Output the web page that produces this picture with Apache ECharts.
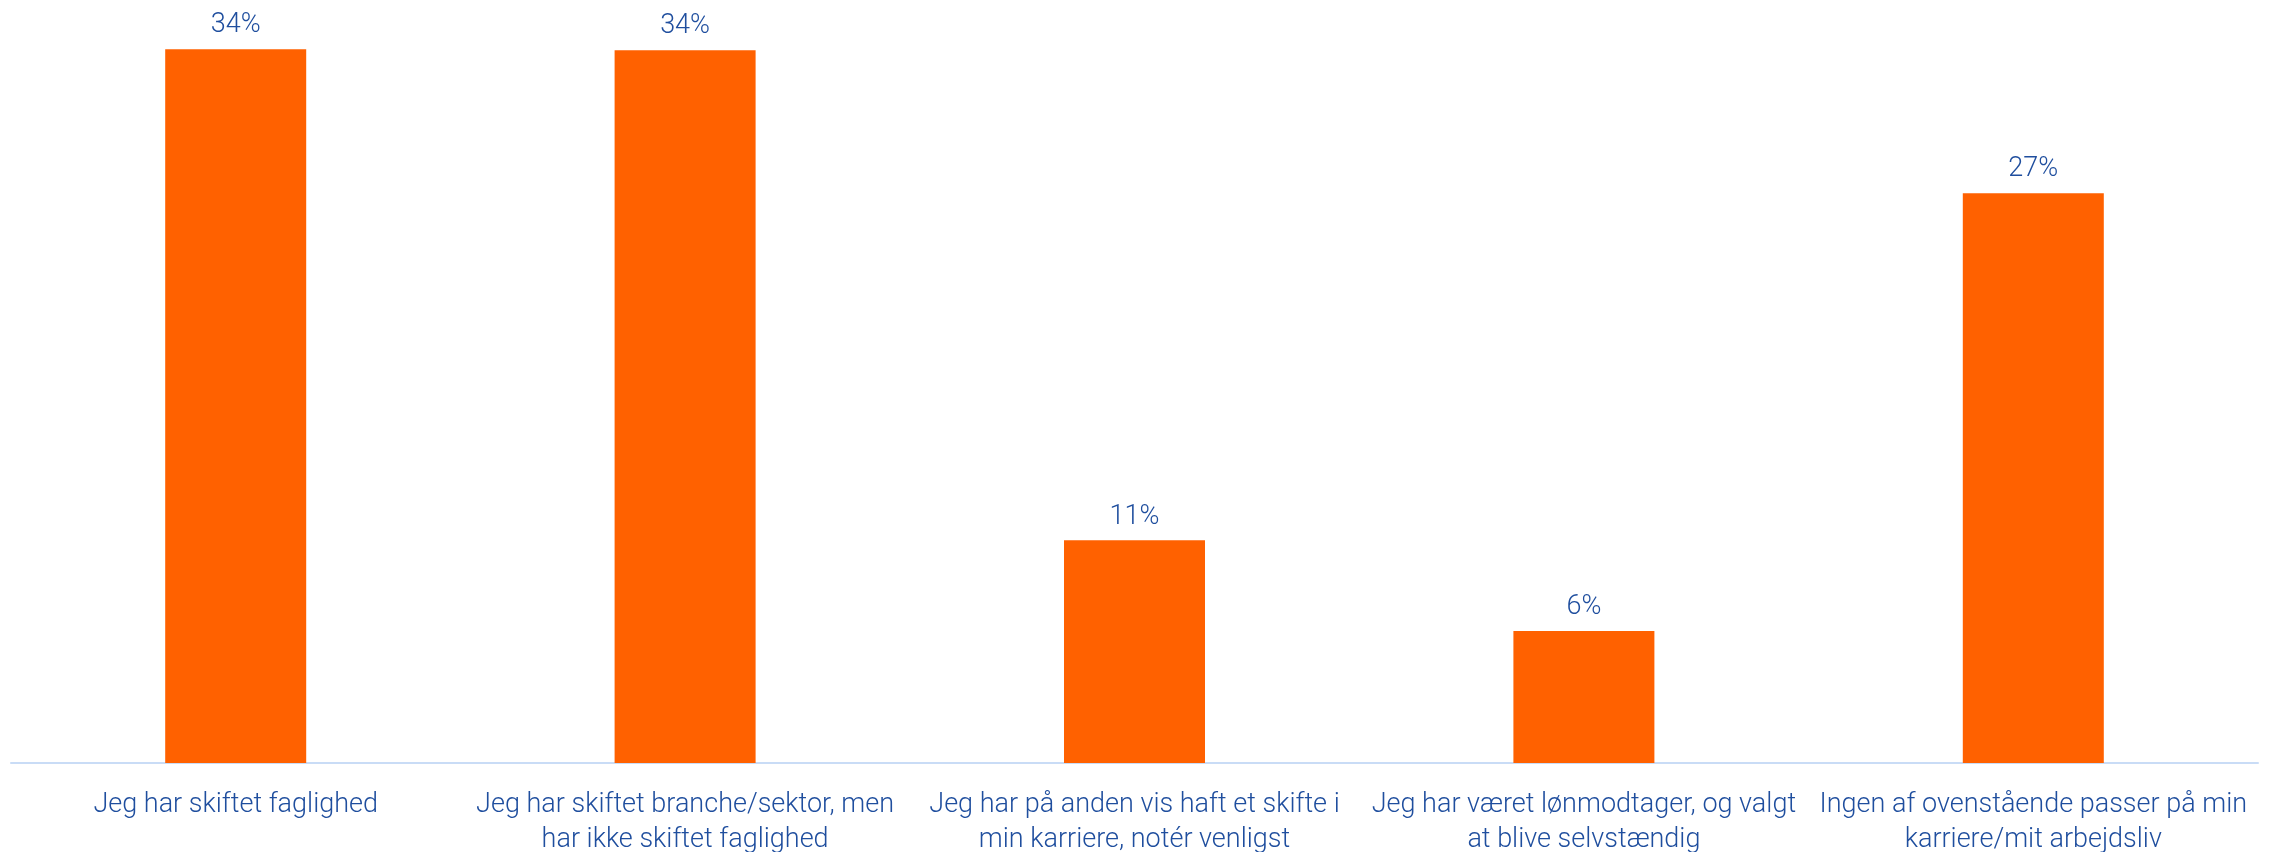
<!DOCTYPE html>
<html>
<head>
<meta charset="utf-8">
<script src="https://cdn.jsdelivr.net/npm/echarts@6/dist/echarts.min.js"></script>
<style>
  html, body { margin: 0; padding: 0; background: #fff; }
  #chart { width: 2277px; height: 852px; }
</style>
</head>
<body>
<div id="chart"></div>
<script>
const categories = [
  'Jeg har skiftet faglighed',
  'Jeg har skiftet branche/sektor, men\nhar ikke skiftet faglighed',
  'Jeg har på anden vis haft et skifte i\nmin karriere, notér venligst',
  'Jeg har været lønmodtager, og valgt\nat blive selvstændig',
  'Ingen af ovenstående passer på min\nkarriere/mit arbejdsliv'
]
const shares = [34.4, 34.35, 10.73, 6.36, 27.46]

const textBlue = '#1f4e9e'
const chart = echarts.init(document.getElementById('chart'))
chart.setOption({
  backgroundColor: '#ffffff',
  animation: false,
  grid: { left: 11, right: 19, top: 16, bottom: 89, containLabel: false, outerBoundsMode: 'none' },
  xAxis: {
    type: 'category',
    data: categories,
    axisLine: { lineStyle: { color: '#c9dcf6', width: 2 } },
    axisTick: { show: false },
    axisLabel: {
      interval: 0,
      margin: 25,
      color: textBlue,
      fontFamily: 'Roboto',
      fontWeight: 300,
      fontSize: 27,
      lineHeight: 35,
      align: 'center'
    }
  },
  yAxis: {
    type: 'value',
    min: 0,
    max: 36,
    show: false,
    splitLine: { show: false }
  },
  series: [{
    type: 'bar',
    data: shares,
    barWidth: 141,
    itemStyle: { color: '#ff6100' },
    label: {
      show: true,
      position: 'top',
      distance: 10,
      color: textBlue,
      fontFamily: 'Roboto',
      fontWeight: 300,
      fontSize: 27,
      formatter: p => Math.round(p.value) + '%'
    }
  }]
})
</script>
</body>
</html>
